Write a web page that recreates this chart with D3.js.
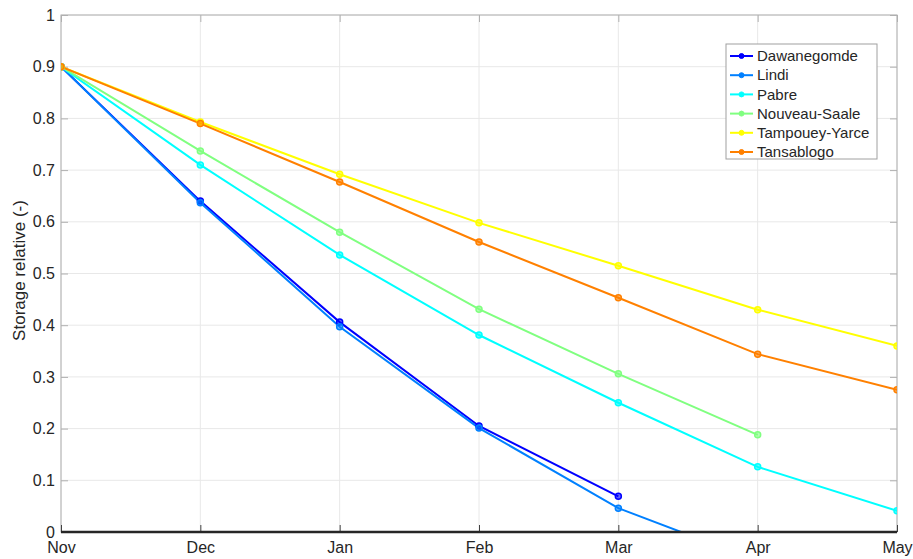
<!DOCTYPE html>
<html>
<head>
<meta charset="utf-8">
<script src="https://cdn.jsdelivr.net/npm/d3@7"></script>
<style>
  body { margin: 0; background: #fff; }
  text { font-family: "Liberation Sans", Arial, sans-serif; fill: #262626; }
</style>
</head>
<body>
<div id="chart"></div>
<script>
const months = ["Nov", "Dec", "Jan", "Feb", "Mar", "Apr", "May"];
const stations = ["Dawanegomde", "Lindi", "Pabre", "Nouveau-Saale", "Tampouey-Yarce", "Tansablogo"];
const colors = ["#0000ff", "#0080ff", "#00ffff", "#80ff80", "#ffff00", "#ff8000"];

const dawanegomde = [0.9, 0.640, 0.406, 0.205, 0.069];
const lindi = [0.9, 0.637, 0.397, 0.201, 0.046, -0.056];
const pabre = [0.9, 0.710, 0.536, 0.381, 0.250, 0.126, 0.041];
const nouveauSaale = [0.9, 0.737, 0.580, 0.431, 0.306, 0.188];
const tampoueyYarce = [0.9, 0.793, 0.692, 0.598, 0.515, 0.430, 0.360];
const tansablogo = [0.9, 0.790, 0.677, 0.561, 0.453, 0.344, 0.275];

const yTicks = [0, 0.1, 0.2, 0.3, 0.4, 0.5, 0.6, 0.7, 0.8, 0.9, 1];

const series = [dawanegomde, lindi, pabre, nouveauSaale, tampoueyYarce, tansablogo];

const width = 913, height = 559;
const margin = { top: 15, right: 16, bottom: 27, left: 61 };

const svg = d3.select("#chart").append("svg")
  .attr("width", width)
  .attr("height", height);

const x = d3.scalePoint().domain(months).range([margin.left, width - margin.right]);
const y = d3.scaleLinear().domain([0, 1]).range([height - margin.bottom, margin.top]);

svg.append("defs").append("clipPath").attr("id", "clip")
  .append("rect")
  .attr("x", margin.left).attr("y", margin.top)
  .attr("width", width - margin.left - margin.right)
  .attr("height", height - margin.top - margin.bottom);

// grid
svg.append("g").selectAll("line").data(yTicks).enter().append("line")
  .attr("x1", margin.left).attr("x2", width - margin.right)
  .attr("y1", d => y(d)).attr("y2", d => y(d))
  .style("stroke", "#e8e8e8");
svg.append("g").selectAll("line").data(months).enter().append("line")
  .attr("x1", d => x(d)).attr("x2", d => x(d))
  .attr("y1", margin.top).attr("y2", height - margin.bottom)
  .style("stroke", "#e8e8e8");

// box
svg.append("rect")
  .attr("x", margin.left).attr("y", margin.top)
  .attr("width", width - margin.left - margin.right)
  .attr("height", height - margin.top - margin.bottom)
  .style("fill", "none").style("stroke", "#b0b0b0");

// inward ticks
const yAxisL = d3.axisLeft(y).tickValues(yTicks).tickSizeInner(-7).tickSizeOuter(0).tickPadding(6).tickFormat(d3.format("~g"));
const gyl = svg.append("g").attr("transform", `translate(${margin.left},0)`).call(yAxisL);
gyl.select(".domain").remove();
gyl.selectAll(".tick line").style("stroke", "#b0b0b0");
gyl.selectAll("text").style("font-size", "16px").style("fill", "#262626");

const yAxisR = d3.axisRight(y).tickValues(yTicks).tickSizeInner(-7).tickSizeOuter(0).tickFormat("");
const gyr = svg.append("g").attr("transform", `translate(${width - margin.right},0)`).call(yAxisR);
gyr.select(".domain").remove();
gyr.selectAll(".tick line").style("stroke", "#b0b0b0");

const xAxis = d3.axisBottom(x).tickSizeInner(-7).tickSizeOuter(0).tickPadding(10);
const gx = svg.append("g").attr("transform", `translate(0,${height - margin.bottom})`).call(xAxis);
gx.select(".domain").remove();
gx.selectAll(".tick line").style("stroke", "#404040");
gx.selectAll("text").style("font-size", "16px").style("fill", "#262626");

const xAxisT = d3.axisTop(x).tickSizeInner(-7).tickSizeOuter(0).tickFormat("");
const gxt = svg.append("g").attr("transform", `translate(0,${margin.top})`).call(xAxisT);
gxt.select(".domain").remove();
gxt.selectAll(".tick line").style("stroke", "#b0b0b0");

// y label
svg.append("text")
  .attr("transform", `translate(25,${(margin.top + height - margin.bottom) / 2 - 3}) rotate(-90)`)
  .attr("text-anchor", "middle")
  .style("font-size", "17px")
  .text("Storage relative (-)");

// lines
const line = d3.line().x((d, i) => x(months[i])).y(d => y(d));
const plot = svg.append("g").attr("clip-path", "url(#clip)");

series.forEach((s, k) => {
  plot.append("path")
    .datum(s)
    .attr("d", line)
    .style("fill", "none")
    .style("stroke", colors[k])
    .style("stroke-width", 2);
});
series.forEach((s, k) => {
  plot.selectAll(null).data(s.filter(v => v >= 0)).enter().append("circle")
    .attr("cx", (d, i) => x(months[i]))
    .attr("cy", d => y(d))
    .attr("r", 3)
    .style("fill", colors[k])
    .style("fill-opacity", 0.6)
    .style("stroke", colors[k])
    .style("stroke-width", 1.5);
});

// zero baseline
svg.append("line")
  .attr("x1", margin.left).attr("x2", width - margin.right)
  .attr("y1", y(0)).attr("y2", y(0))
  .style("stroke", "#262626").style("stroke-width", 2.5);

// legend
const lg = svg.append("g").attr("transform", "translate(726,44)");
lg.append("rect")
  .attr("width", 151).attr("height", 115)
  .style("fill", "#fff").style("stroke", "#a0a0a0");
stations.forEach((name, k) => {
  const ly = 12 + k * 19.2;
  lg.append("line")
    .attr("x1", 4).attr("x2", 27).attr("y1", ly).attr("y2", ly)
    .style("stroke", colors[k]).style("stroke-width", 2);
  lg.append("circle")
    .attr("cx", 15.5).attr("cy", ly).attr("r", 2.5)
    .style("fill", colors[k]).style("stroke", colors[k]);
  lg.append("text")
    .attr("x", 31).attr("y", ly).attr("dy", "0.35em")
    .style("font-size", "15px")
    .text(name);
});
</script>
</body>
</html>
